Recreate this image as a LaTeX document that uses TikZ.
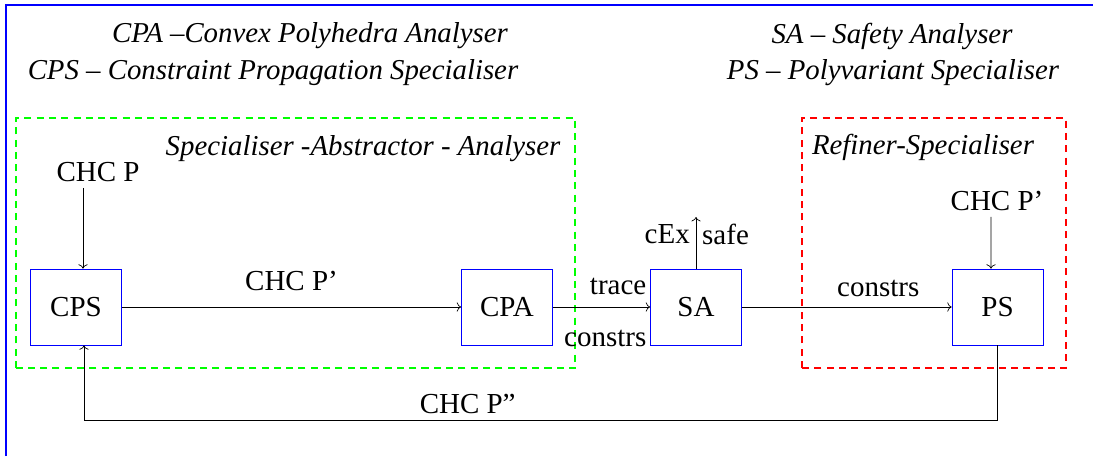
\documentclass[tikz,border=0pt]{standalone}
\usepackage{fontspec}
\setmainfont{Liberation Serif}
\usetikzlibrary{arrows.meta}
\usetikzlibrary{positioning}

\tikzset{
  blk/.style={draw=blue, minimum width=1.82cm, minimum height=1.52cm, inner sep=0pt},
  grp/.style={line width=1pt, dash pattern=on 4pt off 3pt},
  note/.style={font=\fontsize{16.4}{20}\selectfont\itshape},
}

\begin{document}
\begin{tikzpicture}[font=\fontsize{16.5}{20}\selectfont]
  \useasboundingbox (0, 0) rectangle (21.86, 9.12);
  \draw[blue, line width=1.1pt](0.12, 0)--(0.12, 9.02)--(21.86, 9.02);

  % legend
  \node[note] (lcpa) at (6.2, 8.40){CPA --Convex Polyhedra Analyser};
  \node[note] (lcps) at (5.46, 7.66){CPS -- Constraint Propagation Specialiser};
  \node[note] (lsa) at (17.84, 8.40){SA -- Safety Analyser};
  \node[note] (lps) at (17.86, 7.66){PS -- Polyvariant Specialiser};

  % groups
  \draw[grp, green](0.32, 1.76) rectangle (11.5, 6.76);
  \draw[grp, red](16.04, 1.76) rectangle (21.32, 6.76);
  \node[note] (gsaa) at (7.26, 6.14){Specialiser -Abstractor - Analyser};
  \node[note] (grs) at (18.46, 6.18){Refiner-Specialiser};

  % blocks
  \node[blk] (cps) at (1.52, 2.98){CPS};
  \node[blk] (cpa) at (10.14, 2.98){CPA};
  \node[blk] (sa) at (13.92, 2.98){SA};
  \node[blk] (ps) at (19.95, 2.98){PS};

  \node (chcp) at (1.96, 5.68){CHC P};
  \node (chcq) at (19.94, 5.10){CHC P'};
  \coordinate (res) at (13.92, 4.78);

  \draw[->]([xshift=-0.3cm]chcp.south)--([xshift=0.14cm]cps.north);
  \draw[->]([xshift=-0.12cm]chcq.south)--([xshift=-0.13cm]ps.north);

  \draw[->](cps)--node[above=5.7pt]{CHC P'}(cpa);
  \draw[->](cpa)--node[pos=1, anchor=south east, inner sep=2pt, yshift=5pt]{trace}
                 node[pos=1, anchor=north east, inner sep=2pt, yshift=-11pt]{constrs}(sa);
  \draw[->](sa)--node[above=2pt, pos=0.65]{constrs}(ps);
  \draw[->](sa.north)--node[pos=0.67, left]{cEx} node[pos=0.67, right]{safe}(res);

  \draw[->](ps.south)--++(0, -1.5)-|node[above, pos=0.29]{CHC P''}([xshift=0.16cm]cps.south);
\end{tikzpicture}
\end{document}
